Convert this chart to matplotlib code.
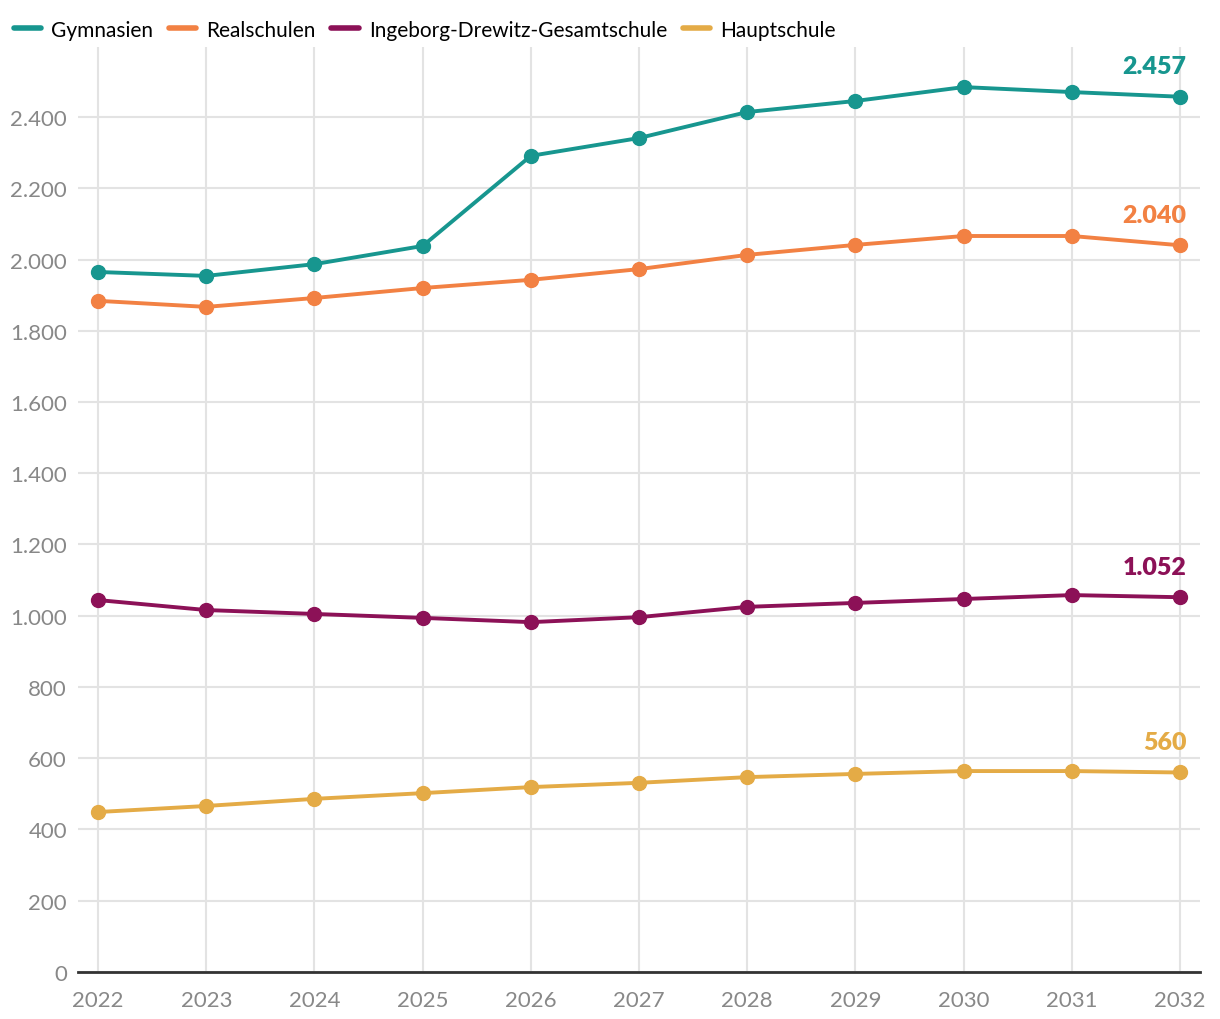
import matplotlib
matplotlib.use('Agg')
import matplotlib.pyplot as plt
from matplotlib.ticker import FuncFormatter, MultipleLocator

plt.rcParams['font.family'] = ['Lato', 'DejaVu Sans']

# Schülerzahlen-Prognose
years = [2022, 2023, 2024, 2025, 2026, 2027, 2028, 2029, 2030, 2031, 2032]
gymnasien = [1965, 1954, 1987, 2038, 2291, 2341, 2414, 2445, 2484, 2470, 2457]
realschulen = [1884, 1867, 1892, 1920, 1943, 1973, 2013, 2041, 2066, 2066, 2040]
gesamtschule = [1044, 1016, 1005, 994, 982, 996, 1025, 1036, 1047, 1058, 1052]
hauptschule = [449, 466, 486, 502, 519, 531, 547, 556, 564, 564, 560]

names = ['Gymnasien', 'Realschulen', 'Ingeborg-Drewitz-Gesamtschule', 'Hauptschule']
colors = ['#17968f', '#f28143', '#8c1157', '#e4ab46']
series = [gymnasien, realschulen, gesamtschule, hauptschule]


def de_fmt(v, pos=None):
    return f'{int(round(v)):,}'.replace(',', '.')


fig = plt.figure(figsize=(12.2, 10.2), dpi=100)
ax = fig.add_axes([0.064, 0.0461, 0.9196, 0.907])

for name, col, vals in zip(names, colors, series):
    ax.plot(years, vals, color=col, lw=2.8, marker='o', ms=10, label=name,
            solid_capstyle='round', zorder=3)
    ax.text(years[-1] + 0.06, vals[-1] + 55, de_fmt(vals[-1]), color=col,
            fontsize=18, fontweight='heavy', ha='right', va='bottom')

ax.set_xlim(2021.815, 2032.185)
ax.set_ylim(0, 2597)
ax.yaxis.set_major_locator(MultipleLocator(200))
ax.yaxis.set_major_formatter(FuncFormatter(de_fmt))
ax.set_xticks(years)

ax.grid(True, color='#e3e3e3', lw=1.5)
ax.set_axisbelow(True)
for s in ['top', 'right', 'left']:
    ax.spines[s].set_visible(False)
ax.spines['bottom'].set_color('#333333')
ax.spines['bottom'].set_linewidth(2)
ax.tick_params(axis='both', length=0, labelsize=16, labelcolor='#888888')
ax.tick_params(axis='y', pad=8)
ax.tick_params(axis='x', pad=13)

leg_handles = [plt.Line2D([], [], color=c, lw=4, solid_capstyle='round') for c in colors]
fig.legend(leg_handles, names, loc='upper left', bbox_to_anchor=(-0.004, 0.998),
           ncol=4, frameon=False, fontsize=15, handlelength=1.3,
           columnspacing=0.75, handletextpad=0.5)

fig.savefig('out.png', dpi=100)
